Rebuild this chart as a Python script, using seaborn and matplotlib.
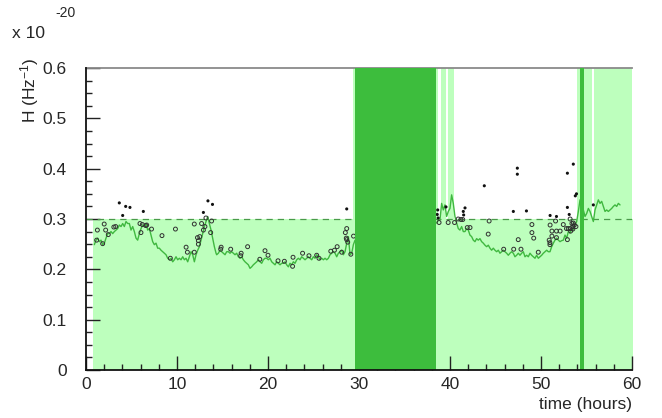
import numpy as np
import pandas as pd
import matplotlib
matplotlib.use("Agg")
import matplotlib.pyplot as plt
import seaborn as sns

# ---------------- data ----------------
# strain curve, segment A (before the gap) - two sampled runs
curve_a1 = [.249, .258, .262, .255, .258, .249, .252, .262, .271, .271, .275, .271, .275, .278, .281, .288,
            .285, .291, .285, .295, .291, .291, .278, .285, .275, .262, .258, .271, .281, .288, .285, .291,
            .278, .281, .268, .255, .249, .252, .242, .242, .238, .235, .232, .229, .222, .219, .222, .215,
            .219, .225, .219, .222, .219, .225, .219, .222, .215, .225, .235, .229, .215, .229, .238, .245,
            .258, .271, .285, .295, .305, .291, .278, .262, .245, .232]
curve_a2 = [.229, .232, .238, .235, .232, .229, .235, .235, .232, .235, .232, .229, .232, .225, .222, .225,
            .219, .215, .212, .209, .202, .205, .209, .212, .215, .219, .215, .212, .219, .222, .222, .219,
            .222, .215, .212, .209, .215, .212, .209, .212, .212, .215, .209, .205, .212, .209, .215, .212,
            .219, .222, .219, .225, .222, .219, .222, .225, .222, .219, .225, .222, .229, .225, .219, .222,
            .219, .222, .219, .222, .229, .232, .235, .232, .225, .232, .235, .238, .229, .235, .252, .265,
            .229, .232, .249, .258]
# segment B (after the gap)
curve_b1 = [.292, .298, .298, .331, .318, .328, .305, .315, .321, .348, .331, .305, .292, .281, .278, .285,
            .275, .275, .281, .278, .268, .265, .258, .255, .261, .258, .261, .255, .252, .248, .245, .248,
            .242, .238, .242, .238, .235, .238, .232, .235, .238, .235, .232, .228, .232, .235, .232, .225,
            .228, .232, .228, .232, .235, .225, .228, .225, .232, .228, .225, .222, .228, .222]
curve_b2 = [.225, .228, .232, .235, .238, .235, .235, .245, .252, .258, .262, .258, .255, .257, .258, .268,
            .262, .275, .272, .281, .278, .288, .295, .315, .338, .331, .318, .305, .311, .321, .315, .305,
            .295, .318, .328, .338, .331, .335, .325, .315, .318, .315, .318, .321, .325, .328, .325, .331,
            .328]
curve_starts = [0.916, 14.36, 38.53, 49.89]   # hours, first sample of each run
curve_step = 0.1832                            # hours between samples

# events
filled_t = [3.66, 4.36, 4.83, 4.03, 6.3, 12.9, 13.4, 13.9, 28.65,
            38.65, 38.6, 38.7, 39.56, 41.65, 41.46, 41.5, 43.77, 47.4, 47.4, 46.96, 48.4,
            51.0, 51.7, 52.9, 53.55, 52.9, 53.1, 53.77, 53.9, 55.75]
filled_h = [.332, .325, .323, .307, .315, .313, .336, .329, .320,
            .318, .309, .302, .324, .322, .315, .308, .366, .401, .389, .315, .316,
            .307, .305, .391, .409, .323, .309, .346, .350, .328]
open_t = [1.17, 1.25, 1.83, 2.0, 2.16, 2.45, 3.06, 3.26, 5.93, 6.19, 6.56, 6.67, 6.04, 7.2, 8.35, 9.83,
          9.27, 11.0, 11.14, 11.9, 11.9, 12.25, 12.35, 12.5, 12.35, 12.9, 13.07, 12.7, 13.18, 13.8, 13.7,
          14.85, 14.8, 15.9, 17.05, 17.0, 17.76, 19.1, 19.67, 20.0, 21.1, 21.8, 22.75, 22.7, 23.8, 24.5,
          25.35, 25.6, 26.9, 27.3, 27.6, 28.1, 28.5, 28.65, 28.6, 28.65, 28.76, 29.1, 29.4,
          38.8, 39.8, 40.5, 40.9, 41.2, 41.4, 41.9, 42.2, 44.3, 44.2, 45.9, 47.0, 47.8, 47.5, 49.0, 49.0,
          49.2, 49.7, 51.0, 50.9, 50.98, 50.98, 51.2, 51.2, 51.6, 51.7, 51.7, 52.1, 52.45, 52.8, 52.9,
          53.0, 53.2, 53.2, 53.4, 53.5, 53.55, 53.66, 53.84, 53.5, 53.26]
open_h = [.258, .278, .251, .290, .278, .269, .284, .285, .291, .289, .287, .288, .273, .280, .267, .280,
          .222, .244, .234, .234, .290, .263, .257, .265, .250, .278, .285, .291, .302, .296, .273,
          .244, .240, .240, .232, .227, .245, .220, .237, .228, .217, .216, .224, .206, .232, .227,
          .228, .222, .236, .238, .245, .234, .273, .281, .262, .259, .254, .230, .266,
          .293, .293, .293, .300, .299, .299, .283, .283, .296, .270, .240, .240, .240, .259, .289, .273,
          .262, .234, .288, .258, .253, .249, .276, .266, .296, .276, .263, .276, .289, .281, .259,
          .281, .300, .281, .291, .285, .292, .288, .285, .280, .276]

threshold = 0.30
live_range = [0.8, 60.14]                     # hours with data (light band up to threshold)
veto_full = [(29.37, 38.71), (38.98, 39.56), (39.78, 40.44), (53.99, 55.60), (55.79, 60.14)]
dead_time = [(29.56, 38.46), (54.29, 54.73)]

xticks = [0, 10, 20, 30, 40, 50, 60]
yticks = [0, 0.1, 0.2, 0.3, 0.4, 0.5, 0.6]
ytick_labels = ['0', '0.1', '0.2', '0.3', '0.4', '0.5', '0.6']

# ---------------- style ----------------
sns.set_style("ticks")
plt.rcParams['font.family'] = ['Liberation Sans', 'DejaVu Sans']
plt.rcParams['mathtext.fontset'] = 'custom'
plt.rcParams['mathtext.rm'] = 'Liberation Sans'
plt.rcParams['mathtext.it'] = 'Liberation Sans'
plt.rcParams['mathtext.default'] = 'regular'
FS = 12.5

LIGHT = '#bdffbd'
DARK = '#3dbd3d'
LINE = '#40b840'

fig = plt.figure(figsize=(6.62, 4.18), dpi=100)
ax = fig.add_axes([86 / 662, 48 / 418, (632 - 86) / 662, (370 - 68) / 418])

# light live-time band
ax.fill_between(live_range, 0, threshold, color=LIGHT, lw=0, zorder=0)
for a, b in veto_full:
    ax.axvspan(a, b, color=LIGHT, lw=0, zorder=0)

ax.axhline(threshold, color='#4a9a4a', lw=0.9, ls=(0, (5, 4)), zorder=1)

# curve
segs = []
for k, vals in enumerate([curve_a1, curve_a2, curve_b1, curve_b2]):
    t = curve_starts[k] + curve_step * np.arange(len(vals))
    segs.append(pd.DataFrame({'t': t, 'h': vals, 'seg': 'AABB'[k]}))
df = pd.concat(segs, ignore_index=True)
for s in ['A', 'B']:
    d = df[df.seg == s]
    sns.lineplot(x=d.t, y=d.h, ax=ax, color=LINE, lw=1.0, sort=False, estimator=None, zorder=3)

# events
sns.scatterplot(x=open_t, y=open_h, ax=ax, s=8, marker='o', zorder=4,
                facecolor='none', edgecolor='#303030', linewidth=0.7)
for c in ax.collections[-1:]:
    c.set_facecolor('none')
sns.scatterplot(x=filled_t, y=filled_h, ax=ax, s=5, color='#101010', edgecolor='none', zorder=5)

for a, b in dead_time:
    ax.axvspan(a, b, color=DARK, lw=0, zorder=6)

# axes
ax.set_xlim(0, 60)
ax.set_ylim(0, 0.6)
ax.set_xticks(xticks)
ax.set_xticks(np.arange(0, 61, 2), minor=True)
ax.set_yticks(yticks)
ax.set_yticklabels(ytick_labels)
ax.set_yticks(np.arange(0, 0.601, 0.025), minor=True)
ax.set_xlabel('')
ax.set_ylabel('')
ax.tick_params(which='major', direction='in', length=10, width=1, labelsize=FS, color='#222222')
ax.tick_params(which='minor', direction='in', length=4.5, width=1, color='#222222')
ax.tick_params(axis='x', pad=5, top=False)
ax.tick_params(axis='y', pad=14, right=False)
for s in ['left', 'bottom']:
    ax.spines[s].set_color('#111111')
    ax.spines[s].set_linewidth(1.3)
    ax.spines[s].set_zorder(10)
ax.spines['top'].set_color('#8a8a8a')
ax.spines['top'].set_linewidth(1.3)
ax.spines['right'].set_visible(False)

fig.text(632 / 662, 1 - 405 / 418, 'time (hours)', ha='right', va='center', fontsize=FS)
fig.text(30 / 662, 1 - 57 / 418, 'H (Hz$^{-1}$)', ha='center', va='top', rotation=90, fontsize=FS)
fig.text(12 / 662, 1 - 33 / 418, 'x 10', ha='left', va='center', fontsize=FS)
fig.text(55 / 662, 1 - 13 / 418, '-20', ha='left', va='center', fontsize=10)

fig.savefig('out.png', dpi=100)
